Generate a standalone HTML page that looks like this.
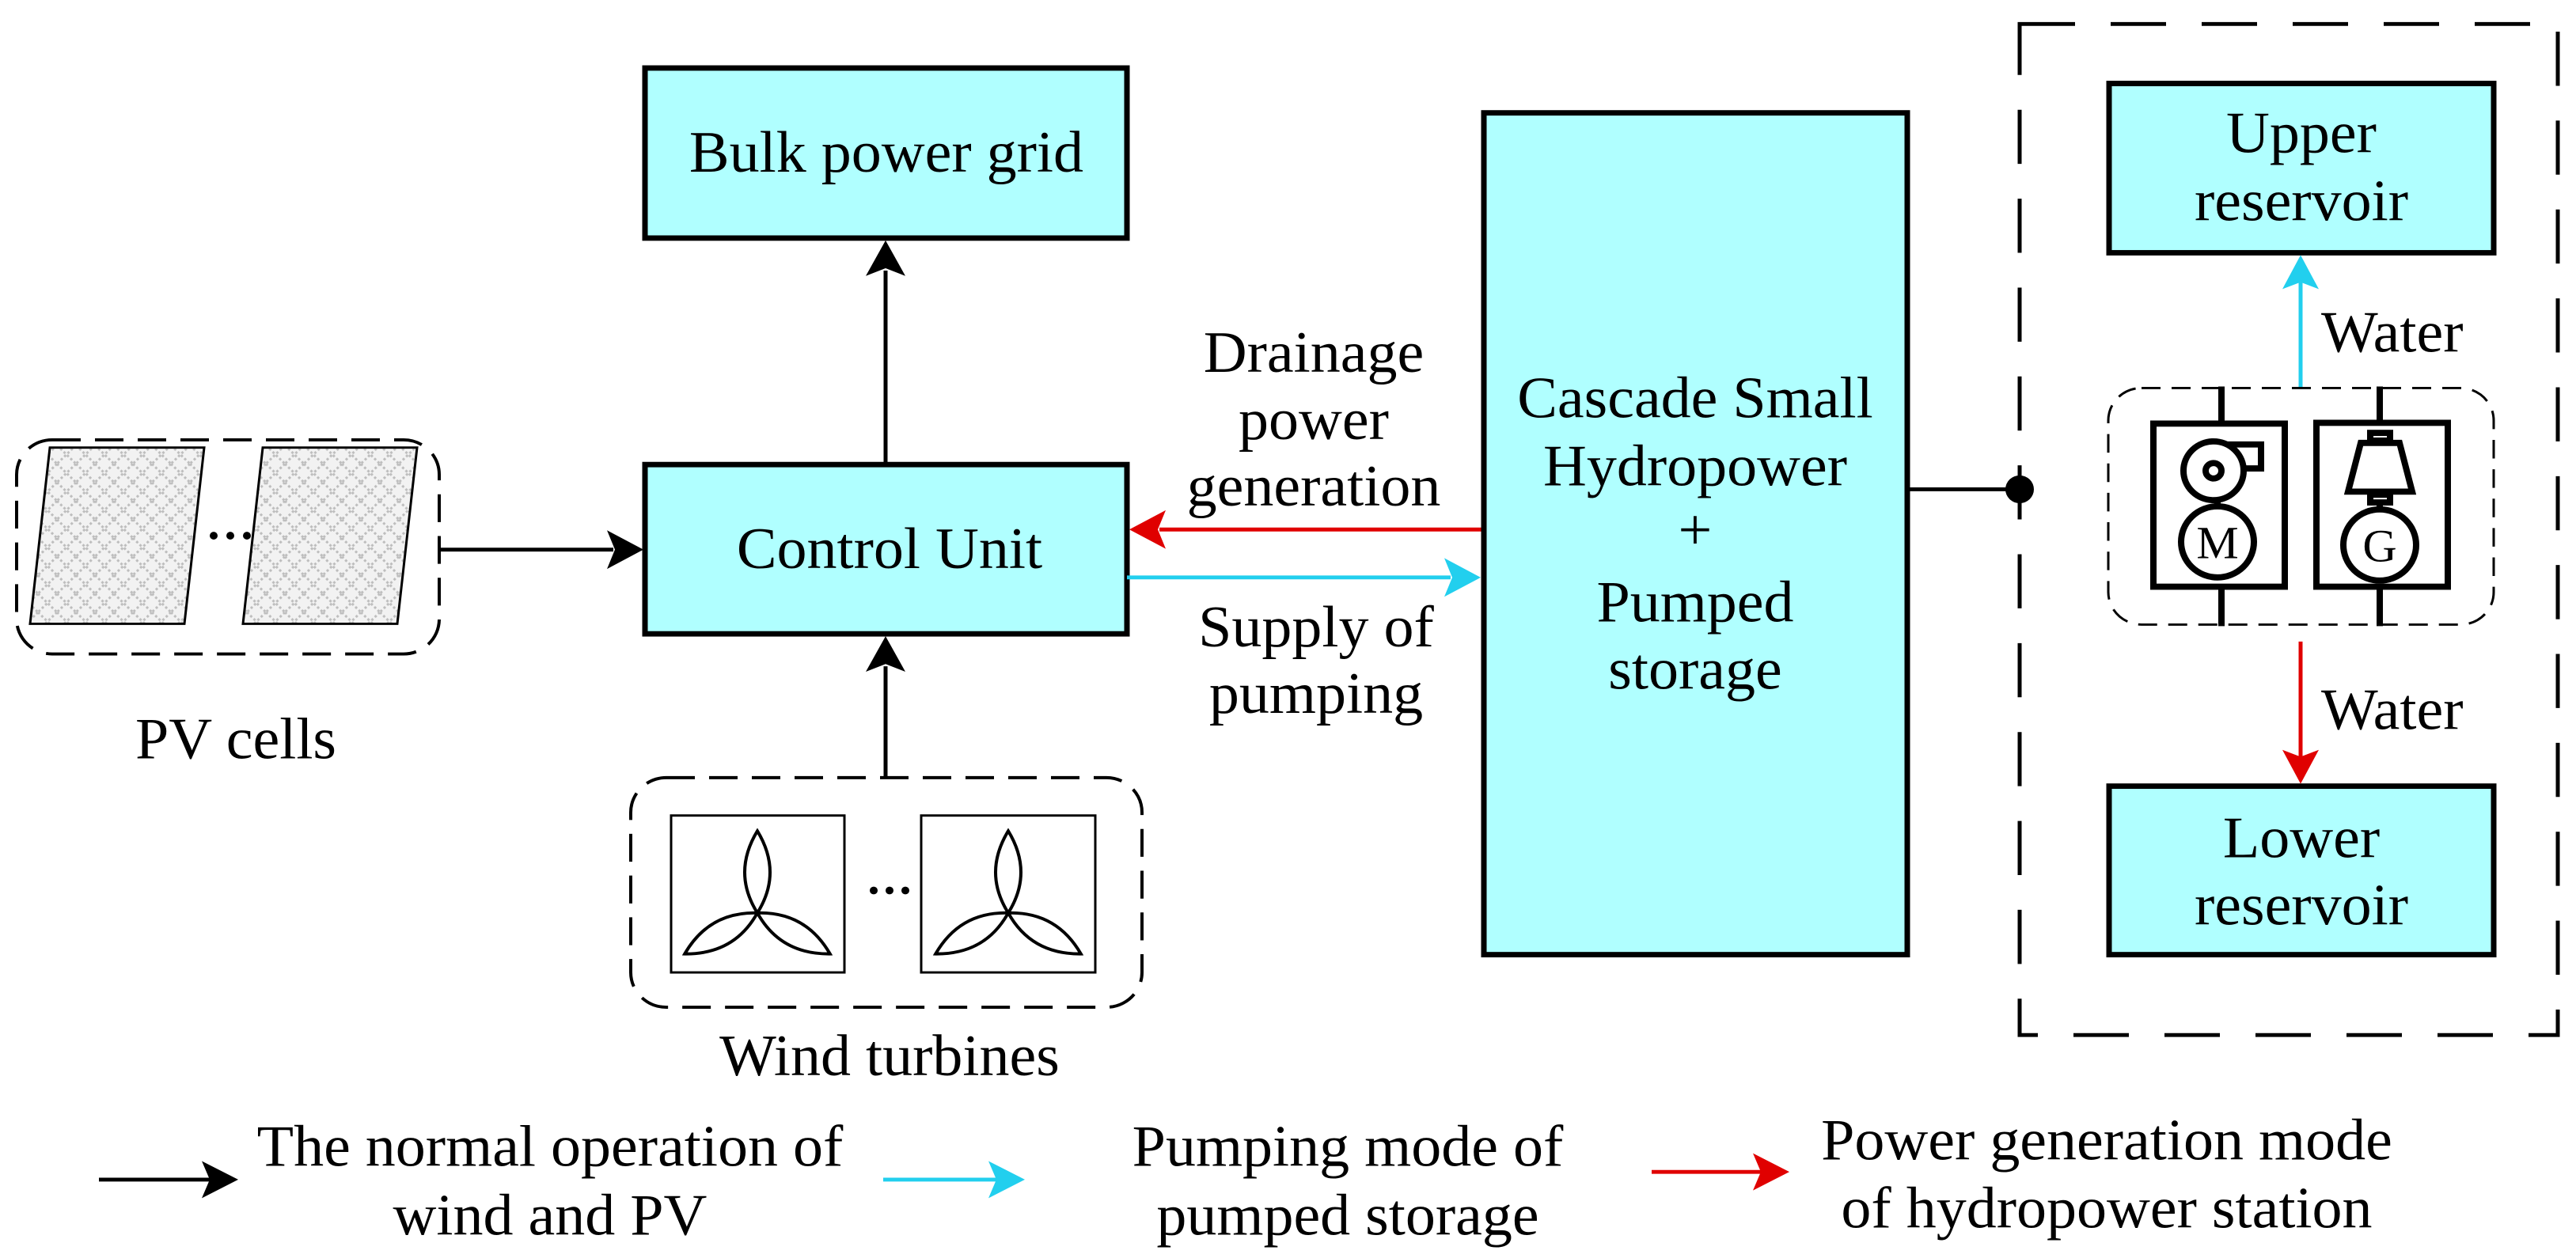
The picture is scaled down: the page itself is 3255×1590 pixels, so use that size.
<!DOCTYPE html>
<html><head><meta charset="utf-8"><style>
html,body{margin:0;padding:0;background:#fff;}
svg{display:block;}
text{font-family:"Liberation Serif","Noto Serif CJK SC","DejaVu Serif",serif;font-size:76px;fill:#000;}
</style></head><body>
<svg width="3255" height="1590" viewBox="0 0 3255 1590" xmlns="http://www.w3.org/2000/svg">
<defs>
<pattern id="pv" width="24" height="24" patternUnits="userSpaceOnUse">
<rect width="24" height="24" fill="#f2f2f2"/>
<path d="M0,0 L24,24 M24,0 L0,24" stroke="#bdbdbd" stroke-width="3" stroke-dasharray="3,3"/>
</pattern>
</defs>
<g transform="scale(1,0.977)">

<rect x="815" y="88" width="609" height="220" fill="#b0ffff" stroke="#000" stroke-width="7"/>
<text x="1120" y="222" text-anchor="middle">Bulk power grid</text>

<rect x="815" y="601" width="609" height="219" fill="#b0ffff" stroke="#000" stroke-width="7"/>
<text x="1124" y="735" text-anchor="middle">Control Unit</text>

<line x1="1119" y1="599" x2="1119" y2="350" stroke="#000" stroke-width="5"/>
<polygon points="1119,311 1094,357 1119,347 1144,357" fill="#000"/>

<rect x="21" y="569" width="534" height="277" rx="45" fill="none" stroke="#000" stroke-width="4" stroke-dasharray="36,18"/>
<polygon points="38,807 63,579 258,579 233,807" fill="url(#pv)" stroke="#000" stroke-width="3"/>
<polygon points="307,807 332,579 527,579 502,807" fill="url(#pv)" stroke="#000" stroke-width="3"/>
<circle cx="270" cy="693" r="5"/><circle cx="291" cy="693" r="5"/><circle cx="312" cy="693" r="5"/>
<text x="298" y="981" text-anchor="middle">PV cells</text>
<line x1="555" y1="711" x2="775" y2="711" stroke="#000" stroke-width="5"/>
<polygon points="813,711 767,686 777,711 767,736" fill="#000"/>

<rect x="797" y="1006" width="646" height="297" rx="45" fill="none" stroke="#000" stroke-width="4" stroke-dasharray="36,18"/>
<rect x="848" y="1055" width="219" height="203" fill="#fff" stroke="#000" stroke-width="3"/>
<rect x="1164" y="1055" width="220" height="203" fill="#fff" stroke="#000" stroke-width="3"/>
<g fill="none" stroke="#000" stroke-width="4">
<g transform="translate(957,1181)">
<path d="M0,0 Q-32,-52 0,-106 Q32,-52 0,0"/>
<path d="M0,0 Q-32,-52 0,-106 Q32,-52 0,0" transform="rotate(120)"/>
<path d="M0,0 Q-32,-52 0,-106 Q32,-52 0,0" transform="rotate(240)"/>
</g>
<g transform="translate(1274,1181)">
<path d="M0,0 Q-32,-52 0,-106 Q32,-52 0,0"/>
<path d="M0,0 Q-32,-52 0,-106 Q32,-52 0,0" transform="rotate(120)"/>
<path d="M0,0 Q-32,-52 0,-106 Q32,-52 0,0" transform="rotate(240)"/>
</g>
</g>
<circle cx="1104" cy="1152" r="5"/><circle cx="1124" cy="1152" r="5"/><circle cx="1144" cy="1152" r="5"/>
<text x="1124" y="1391" text-anchor="middle">Wind turbines</text>
<line x1="1119" y1="1006" x2="1119" y2="862" stroke="#000" stroke-width="5"/>
<polygon points="1119,823 1094,869 1119,859 1144,869" fill="#000"/>

<line x1="1873" y1="685" x2="1465" y2="685" stroke="#e00000" stroke-width="5"/>
<polygon points="1427,685 1473,660 1463,685 1473,710" fill="#e00000"/>
<line x1="1424" y1="747" x2="1833" y2="747" stroke="#22cfee" stroke-width="5"/>
<polygon points="1871,747 1825,722 1835,747 1825,772" fill="#22cfee"/>
<text x="1660" y="481" text-anchor="middle">Drainage</text>
<text x="1660" y="568" text-anchor="middle">power</text>
<text x="1660" y="654" text-anchor="middle">generation</text>
<text x="1663" y="836" text-anchor="middle">Supply of</text>
<text x="1663" y="922" text-anchor="middle">pumping</text>

<rect x="1875" y="146" width="535" height="1089" fill="#b0ffff" stroke="#000" stroke-width="7"/>
<text x="2142" y="540" text-anchor="middle">Cascade Small</text>
<text x="2142" y="628" text-anchor="middle">Hydropower</text>
<text x="2142" y="711" text-anchor="middle">+</text>
<text x="2142" y="804" text-anchor="middle">Pumped</text>
<text x="2142" y="891" text-anchor="middle">storage</text>
<line x1="2410" y1="633" x2="2552" y2="633" stroke="#000" stroke-width="5"/>
<circle cx="2552" cy="633" r="18" fill="#000"/>

<rect x="2552" y="31" width="680" height="1308" fill="none" stroke="#000" stroke-width="5" stroke-dasharray="70,45"/>

<rect x="2665" y="108" width="486" height="219" fill="#b0ffff" stroke="#000" stroke-width="7"/>
<text x="2908" y="197" text-anchor="middle">Upper</text>
<text x="2908" y="285" text-anchor="middle">reservoir</text>
<rect x="2665" y="1017" width="486" height="218" fill="#b0ffff" stroke="#000" stroke-width="7"/>
<text x="2908" y="1109" text-anchor="middle">Lower</text>
<text x="2908" y="1196" text-anchor="middle">reservoir</text>

<line x1="2907" y1="503" x2="2907" y2="365" stroke="#22cfee" stroke-width="5"/>
<polygon points="2907,330 2884,374 2907,365 2930,374" fill="#22cfee"/>
<text x="2933" y="455">Water</text>
<line x1="2907" y1="830" x2="2907" y2="980" stroke="#e00000" stroke-width="5"/>
<polygon points="2907,1014 2884,970 2907,979 2930,970" fill="#e00000"/>
<text x="2933" y="943">Water</text>

<rect x="2664" y="502" width="487" height="306" rx="42" fill="none" stroke="#000" stroke-width="3" stroke-dasharray="24,14"/>
<g stroke="#000" stroke-width="8" fill="none">
<rect x="2721" y="548" width="166" height="211"/>
<rect x="2927" y="547" width="166" height="212"/>
<line x1="2807" y1="500" x2="2807" y2="548"/>
<line x1="2807" y1="759" x2="2807" y2="810"/>
<line x1="3007" y1="500" x2="3007" y2="547"/>
<line x1="3007" y1="759" x2="3007" y2="810"/>
<path d="M2797,575 L2857,575 L2857,606 L2830,606"/>
<circle cx="2797" cy="609" r="38" fill="#fff"/>
<circle cx="2797" cy="609" r="10"/>
<line x1="2802" y1="645" x2="2802" y2="656"/>
<circle cx="2802" cy="701" r="46"/>
<rect x="2995" y="560" width="25" height="10"/>
<polygon points="2983,573 3032,573 3048,636 2967,636"/>
<rect x="2995" y="640" width="25" height="10"/>
<line x1="3007" y1="650" x2="3007" y2="660"/>
<circle cx="3007" cy="705" r="46"/>
</g>
<text x="2802" y="722" text-anchor="middle" style="font-size:60px">M</text>
<text x="3007" y="726" text-anchor="middle" style="font-size:60px">G</text>

<line x1="125" y1="1526" x2="265" y2="1526" stroke="#000" stroke-width="5"/>
<polygon points="301,1526 255,1502 265,1526 255,1550" fill="#000"/>
<text x="695" y="1508" text-anchor="middle">The normal operation of</text>
<text x="695" y="1597" text-anchor="middle">wind and PV</text>
<line x1="1116" y1="1526" x2="1260" y2="1526" stroke="#22cfee" stroke-width="5"/>
<polygon points="1295,1526 1249,1502 1259,1526 1249,1550" fill="#22cfee"/>
<text x="1703" y="1508" text-anchor="middle">Pumping mode of</text>
<text x="1703" y="1597" text-anchor="middle">pumped storage</text>
<line x1="2087" y1="1516" x2="2225" y2="1516" stroke="#e00000" stroke-width="5"/>
<polygon points="2261,1516 2215,1492 2225,1516 2215,1540" fill="#e00000"/>
<text x="2662" y="1500" text-anchor="middle">Power generation mode</text>
<text x="2662" y="1588" text-anchor="middle">of hydropower station</text>
</g>
</svg>
</body></html>
